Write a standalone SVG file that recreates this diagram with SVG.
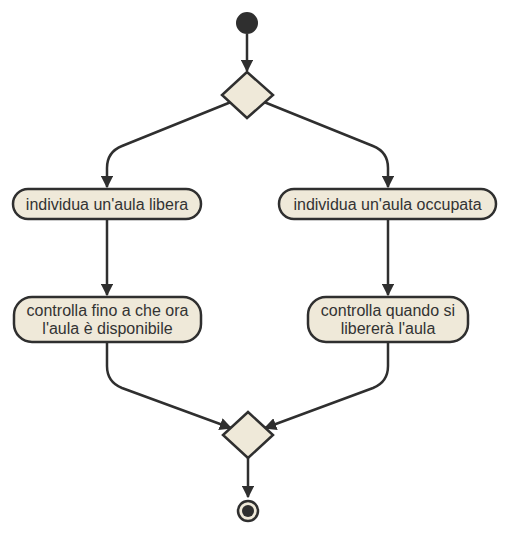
<svg xmlns="http://www.w3.org/2000/svg" width="508" height="536" viewBox="0 0 508 536">
<style>
.n{fill:#efe9d9;stroke:#2f2f2f;stroke-width:2.5}
.t{font-family:"Liberation Sans",Arial,sans-serif;font-size:16px;fill:#333;text-anchor:middle}
.e{fill:none;stroke:#2f2f2f;stroke-width:2.5}
</style>
<defs>
<marker id="a" viewBox="0 0 10 10" refX="9" refY="5" markerWidth="5" markerHeight="5" orient="auto" markerUnits="strokeWidth">
<path d="M0,0 L10,5 L0,10 z" fill="#2f2f2f"/>
</marker>
</defs>
<g id="edges">
<path class="e" d="M247,34 V71" marker-end="url(#a)"/>
<path class="e" d="M231,102 L122,146 Q107,152 107,168 V187" marker-end="url(#a)"/>
<path class="e" d="M264,102 L373,146 Q388,152 388,168 V187" marker-end="url(#a)"/>
<path class="e" d="M107,220 V295" marker-end="url(#a)"/>
<path class="e" d="M388,220 V295" marker-end="url(#a)"/>
<path class="e" d="M107,343 V366 Q107,382 122,388 L231,428" marker-end="url(#a)"/>
<path class="e" d="M388,343 V366 Q388,382 373,388 L265,428" marker-end="url(#a)"/>
<path class="e" d="M248,458 V497" marker-end="url(#a)"/>
</g>
<g id="start"><circle cx="247" cy="23" r="11" fill="#2f2f2f"/></g>
<g id="dec1"><polygon class="n" points="247,72 273,95 247,118 222,95"/></g>
<g id="a1"><rect class="n" x="13" y="189" width="188" height="30" rx="15"/><text class="t" x="107" y="210">individua un'aula libera</text></g>
<g id="a2"><rect class="n" x="279" y="189" width="217" height="30" rx="15"/><text class="t" x="387.5" y="210">individua un'aula occupata</text></g>
<g id="a3"><rect class="n" x="14" y="297" width="187" height="45" rx="18"/><text class="t" x="107.5" y="316">controlla fino a che ora</text><text class="t" x="107.5" y="334">l'aula è disponibile</text></g>
<g id="a4"><rect class="n" x="308" y="297" width="160" height="45" rx="18"/><text class="t" x="388" y="316">controlla quando si</text><text class="t" x="388" y="334">libererà l'aula</text></g>
<g id="dec2"><polygon class="n" points="248,412 273,435 248,458 223,435"/></g>
<g id="end"><circle cx="248" cy="511" r="10" fill="#efe9d9" stroke="#2f2f2f" stroke-width="2.5"/><circle cx="248" cy="511" r="6" fill="#2f2f2f"/></g>
</svg>
